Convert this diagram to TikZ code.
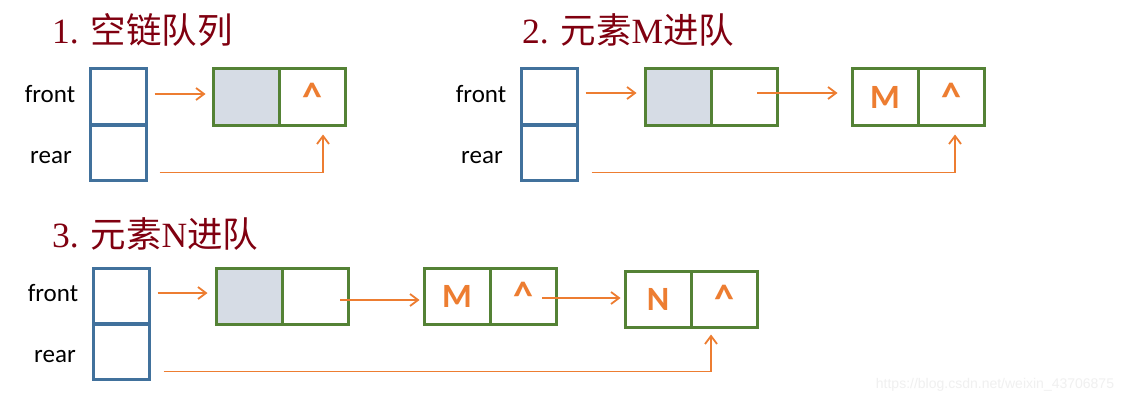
\documentclass[tikz,border=0pt]{standalone}
\usepackage{fontspec}
\setmainfont{Carlito}
\newfontfamily\cjk{Noto Sans CJK SC}
\newfontfamily\ser{Liberation Serif}
\newfontfamily\wm{Liberation Sans}
\usetikzlibrary{arrows.meta}
\definecolor{titred}{RGB}{128,0,16}
\definecolor{bboxc}{RGB}{65,113,156}
\definecolor{gboxc}{RGB}{84,130,53}
\definecolor{fillc}{RGB}{214,220,229}
\definecolor{orng}{RGB}{237,125,49}
\newcommand{\crt}{{\fontsize{40}{44}\selectfont\raisebox{-4pt}{\char`\^}}}
\tikzset{
  titletext/.style={anchor=base west, text=titred, inner sep=0pt, font=\fontsize{35.5}{40}\selectfont},
  lbl/.style={inner sep=0pt, font=\fontsize{25}{28}\selectfont},
  bcell/.style={draw=bboxc, line width=3pt, minimum width=56pt, minimum height=56pt, inner sep=0pt},
  gcell/.style={draw=gboxc, line width=3pt, minimum width=66pt, minimum height=56pt, inner sep=0pt,
     text=orng, font=\bfseries\fontsize{34}{36}\selectfont},
  hcell/.style={gcell, fill=fillc},
  arr/.style={draw=orng, line width=1.8pt, -{Straight Barb[length=8pt,width=12pt,line width=1.8pt]}},
}
\begin{document}
\begin{tikzpicture}[x=1pt,y=-1pt]
\useasboundingbox[fill=white] (0,0) rectangle (1140,404);

% ---------- 1 ----------
\node[titletext] (t1) at (52,44) {{\ser 1. }{\cjk 空链队列}};
\node[lbl] (lf1) at (50,94) {front};
\node[lbl] (lr1) at (51,158) {rear};
\node[bcell] (b1t) at (118,97) {};
\node[bcell] (b1b) at (118,152.5) {};
\node[hcell] (g1a) at (246,97) {};
\node[gcell] (g1b) at (312,97) {\crt};
\draw[arr] ([shift={(7,-3)}]b1t.east) -- ([shift={(-6,-3)}]g1a.west);
\draw[arr] ([shift={(12,20)}]b1b.east) -| ([shift={(11,8)}]g1b.south);

% ---------- 2 ----------
\node[titletext] (t2) at (522,44) {{\ser 2. }{\cjk 元素}{\ser M}{\cjk 进队}};
\node[lbl] (lf2) at (481,94) {front};
\node[lbl] (lr2) at (482,158) {rear};
\node[bcell] (b2t) at (549,97) {};
\node[bcell] (b2b) at (549,152.5) {};
\node[hcell] (g2a) at (678,97) {};
\node[gcell] (g2b) at (744,97) {};
\node[gcell] (g3a) at (885,97) {M};
\node[gcell] (g3b) at (951,97) {\crt};
\draw[arr] ([shift={(7,-4)}]b2t.east) -- ([shift={(-7,-4)}]g2a.west);
\draw[arr] ([shift={(13,-4)}]g2b.center) -- ([shift={(-13,-4)}]g3a.west);
\draw[arr] ([shift={(13,20)}]b2b.east) -| ([shift={(4,8)}]g3b.south);

% ---------- 3 ----------
\node[titletext] (t3) at (52,247) {{\ser 3. }{\cjk 元素}{\ser N}{\cjk 进队}};
\node[lbl] (lf3) at (53,293) {front};
\node[lbl] (lr3) at (55,357) {rear};
\node[bcell] (b3t) at (121,296) {};
\node[bcell] (b3b) at (121,351.5) {};
\node[hcell] (h1a) at (249,296) {};
\node[gcell] (h1b) at (315,296) {};
\node[gcell] (h2a) at (457,296) {M};
\node[gcell] (h2b) at (523,296) {\crt};
\node[gcell] (h3a) at (658,299) {N};
\node[gcell] (h3b) at (724,299) {\crt};
\draw[arr] ([shift={(7,-3)}]b3t.east) -- ([shift={(-7,-3)}]h1a.west);
\draw[arr] ([shift={(25,4)}]h1b.center) -- ([shift={(-3,4)}]h2a.west);
\draw[arr] ([shift={(19,2)}]h2b.center) -- ([shift={(-3,-1)}]h3a.west);
\draw[arr] ([shift={(13,20)}]b3b.east) -| ([shift={(-13,6)}]h3b.south);

% watermark
\node[inner sep=0pt, text=black!6, font=\wm\fontsize{14}{16}\selectfont] (wmk) at (995,385) {https://blog.csdn.net/weixin\_43706875};
\end{tikzpicture}
\end{document}
